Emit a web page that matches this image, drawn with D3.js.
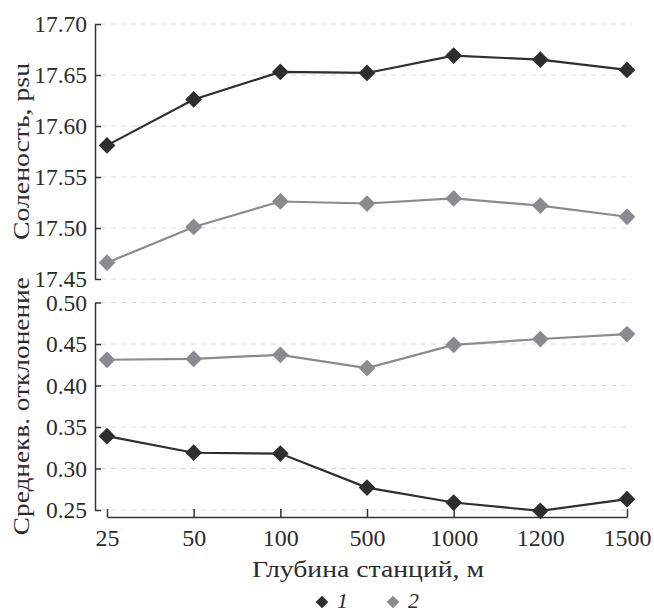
<!DOCTYPE html>
<html>
<head>
<meta charset="utf-8">
<script src="https://cdn.jsdelivr.net/npm/d3@7/dist/d3.min.js"></script>
<style>
  html, body { margin: 0; padding: 0; background: #fff; }
  svg { display: block; }
</style>
</head>
<body>
<svg id="chart" width="654" height="613"></svg>
<script>
// Station depth categories, m
const depths = ["25", "50", "100", "500", "1000", "1200", "1500"];

// Mean salinity, psu
const salinity1 = [17.581, 17.626, 17.653, 17.652, 17.669, 17.665, 17.655];
const salinity2 = [17.466, 17.501, 17.526, 17.524, 17.529, 17.522, 17.511];

// Standard deviation of salinity
const stdev1 = [0.339, 0.319, 0.318, 0.277, 0.259, 0.249, 0.263];
const stdev2 = [0.431, 0.432, 0.437, 0.421, 0.449, 0.456, 0.462];

const salinityTicks = [17.45, 17.50, 17.55, 17.60, 17.65, 17.70];
const stdevTicks = [0.25, 0.30, 0.35, 0.40, 0.45, 0.50];

const seriesNames = ["1", "2"];
const colors = ["#2e2e2e", "#8a8b8e"];

const FONT = '"Liberation Serif"';
const TEXT = "#2b2b2b";

const svg = d3.select("#chart");
const axisX = 95;
const fontSize = 23.5;

const x = d3.scalePoint().domain(depths).range([107, 627]);
const yTop = d3.scaleLinear().domain([17.45, 17.70]).range([279, 24]);
const yBot = d3.scaleLinear().domain([0.25, 0.50]).range([510, 302.5]);

function styleText(sel, size) {
  sel.attr("font-family", null).style("font-family", FONT)
    .attr("font-size", size).attr("fill", TEXT);
}

function panel(y, ticks, series, title, titleLen) {
  const g = svg.append("g");

  // dashed horizontal grid
  g.append("g").selectAll("line").data(ticks).join("line")
    .attr("x1", axisX + 6).attr("x2", 632)
    .attr("y1", d => y(d)).attr("y2", d => y(d))
    .attr("stroke", "#d9d9d9").attr("stroke-width", 1)
    .attr("stroke-dasharray", "5,5");

  const ax = g.append("g")
    .attr("transform", `translate(${axisX},0)`)
    .call(d3.axisLeft(y).tickValues(ticks).tickFormat(d3.format(".2f"))
      .tickSizeInner(-6).tickSizeOuter(0).tickPadding(8));
  ax.attr("font-family", null).attr("font-size", null);
  ax.select(".domain").attr("stroke", "#333").attr("stroke-width", 1.5);
  ax.selectAll(".tick line").attr("stroke", "#333").attr("stroke-width", 1.5);
  styleText(ax.selectAll(".tick text"), fontSize);

  const line = d3.line().x((d, i) => x(depths[i])).y(d => y(d));
  const diamond = d3.symbol().type(d3.symbolSquare).size(140);

  series.forEach((vals, k) => {
    g.append("path").datum(vals)
      .attr("d", line).attr("fill", "none")
      .attr("stroke", colors[k]).attr("stroke-width", 2.2);
    g.append("g").selectAll("path").data(vals).join("path")
      .attr("d", diamond)
      .attr("transform", (d, i) => `translate(${x(depths[i])},${y(d)}) rotate(45)`)
      .attr("fill", colors[k]);
  });

  const [r0, r1] = y.range();
  styleText(g.append("text")
    .attr("transform", `translate(29,${(r0 + r1) / 2}) rotate(-90)`)
    .attr("text-anchor", "middle")
    .attr("textLength", titleLen)
    .attr("lengthAdjust", "spacingAndGlyphs")
    .text(title), 23);
}

panel(yTop, salinityTicks, [salinity1, salinity2], "Соленость, psu", 177);
panel(yBot, stdevTicks, [stdev1, stdev2], "Среднекв. отклонение", 258);

// bottom category axis with inward ticks
const xa = svg.append("g")
  .attr("transform", "translate(0,517)")
  .call(d3.axisBottom(x).tickSizeInner(-8).tickSizeOuter(0).tickPadding(12));
xa.attr("font-family", null).attr("font-size", null);
xa.select(".domain").attr("stroke", "#333").attr("stroke-width", 1.5);
xa.selectAll(".tick line").attr("stroke", "#333").attr("stroke-width", 1.5);
styleText(xa.selectAll(".tick text"), 24);

styleText(svg.append("text")
  .attr("x", 368).attr("y", 577)
  .attr("text-anchor", "middle")
  .attr("textLength", 232)
  .attr("lengthAdjust", "spacingAndGlyphs")
  .text("Глубина станций, м"), 23);

// legend
const legend = svg.append("g");
const legendX = [322, 393];
const legendDiamond = d3.symbol().type(d3.symbolSquare).size(80);
seriesNames.forEach((name, k) => {
  legend.append("path")
    .attr("d", legendDiamond)
    .attr("transform", `translate(${legendX[k]},602) rotate(45)`)
    .attr("fill", colors[k]);
  styleText(legend.append("text")
    .attr("x", legendX[k] + 15).attr("y", 608)
    .attr("font-style", "italic")
    .text(name), 22);
});
</script>
</body>
</html>
